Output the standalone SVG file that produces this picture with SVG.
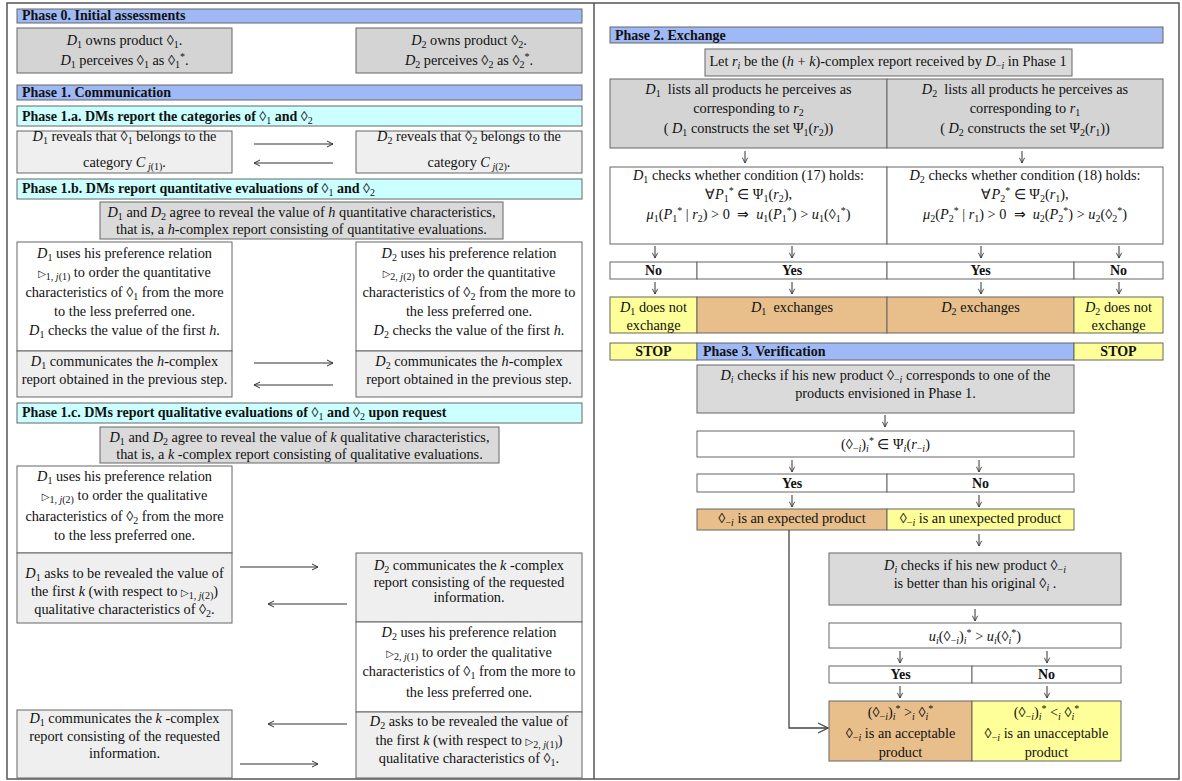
<svg xmlns="http://www.w3.org/2000/svg" width="1182" height="781" viewBox="0 0 1182 781">
<style>
.t{font-family:"Liberation Serif","Times New Roman",serif;font-size:14.3px;fill:#111;text-anchor:middle}
.h{font-weight:bold;text-anchor:start;font-size:14px}
.b{font-weight:bold;font-size:14px}
.i{font-style:italic}
.s{font-size:10px;baseline-shift:-3px}
.u{font-size:10px;baseline-shift:5px}
.tr{font-family:"DejaVu Sans",sans-serif;font-size:10px}
.bx{stroke:#666;stroke-width:1}
.blue{fill:#9fb8f6}
.cyan{fill:#ccffff}
.g1{fill:#d4d4d4}
.g2{fill:#efefef}
.g3{fill:#dadada}
.w{fill:#ffffff}
.yel{fill:#ffff99}
.org{fill:#e8bf8b}
.c{stroke:#333;stroke-width:1;fill:none}
</style>
<defs>
<marker id="ah" viewBox="0 0 8 8" refX="7" refY="4" markerWidth="8" markerHeight="8" orient="auto" markerUnits="userSpaceOnUse"><path d="M1,1 L7,4 L1,7" fill="none" stroke="#333" stroke-width="1"/></marker>
<marker id="ahs" viewBox="0 0 8 8" refX="7" refY="4" markerWidth="7" markerHeight="7" orient="auto" markerUnits="userSpaceOnUse"><path d="M1,1 L7,4 L1,7" fill="none" stroke="#333" stroke-width="1"/></marker>
<marker id="ahb" viewBox="0 0 12 12" refX="11" refY="6" markerWidth="12" markerHeight="12" orient="auto" markerUnits="userSpaceOnUse"><path d="M1,1 L11,6 L1,11" fill="none" stroke="#444" stroke-width="1.3"/></marker>
</defs>
<rect x="0" y="0" width="1182" height="781" fill="#ffffff"/>
<rect x="7" y="3" width="1172" height="776" fill="none" stroke="#555" stroke-width="1.5"/>
<line x1="594" y1="3" x2="594" y2="779" stroke="#555" stroke-width="1.5"/>

<!-- LEFT PANEL -->
<g id="ph0"><rect class="bx blue" x="17" y="9" width="565" height="14"/><text class="t h" x="22" y="20">Phase 0. Initial assessments</text></g>
<g id="p0d1"><rect class="bx g1" x="17" y="28" width="215" height="45"/>
<text class="t" x="124.5" y="45"><tspan class="i">D</tspan><tspan class="s">1</tspan> owns product ◊<tspan class="s">1</tspan>.</text>
<text class="t" x="124.5" y="65"><tspan class="i">D</tspan><tspan class="s">1</tspan> perceives ◊<tspan class="s">1</tspan> as ◊<tspan class="s">1</tspan><tspan class="u">*</tspan>.</text></g>
<g id="p0d2"><rect class="bx g1" x="356" y="28" width="226" height="45"/>
<text class="t" x="469" y="45"><tspan class="i">D</tspan><tspan class="s">2</tspan> owns product ◊<tspan class="s">2</tspan>.</text>
<text class="t" x="469" y="65"><tspan class="i">D</tspan><tspan class="s">2</tspan> perceives ◊<tspan class="s">2</tspan> as ◊<tspan class="s">2</tspan><tspan class="u">*</tspan>.</text></g>

<g id="ph1"><rect class="bx blue" x="17" y="85" width="565" height="15"/><text class="t h" x="22" y="97">Phase 1. Communication</text></g>
<g id="ph1a"><rect class="bx cyan" x="17" y="106" width="565" height="20"/><text class="t h" x="22" y="121">Phase 1.a. DMs report the categories of <tspan font-weight="normal">◊<tspan class="s">1</tspan></tspan> and <tspan font-weight="normal">◊<tspan class="s">2</tspan></tspan></text></g>
<g id="rev1"><rect class="bx g2" x="17" y="131" width="215" height="42"/>
<text class="t" x="124.5" y="141"><tspan class="i">D</tspan><tspan class="s">1</tspan> reveals that ◊<tspan class="s">1</tspan> belongs to the</text>
<text class="t" x="124.5" y="167">category <tspan class="i">C</tspan><tspan class="s" font-style="italic"> j</tspan><tspan class="s">(1)</tspan>.</text></g>
<g id="rev2"><rect class="bx g2" x="356" y="131" width="226" height="42"/>
<text class="t" x="469" y="141"><tspan class="i">D</tspan><tspan class="s">2</tspan> reveals that ◊<tspan class="s">2</tspan> belongs to the</text>
<text class="t" x="469" y="167">category <tspan class="i">C</tspan><tspan class="s" font-style="italic"> j</tspan><tspan class="s">(2)</tspan>.</text></g>

<g id="ph1b"><rect class="bx cyan" x="17" y="179" width="565" height="20"/><text class="t h" x="22" y="193">Phase 1.b. DMs report quantitative evaluations of <tspan font-weight="normal">◊<tspan class="s">1</tspan></tspan> and <tspan font-weight="normal">◊<tspan class="s">2</tspan></tspan></text></g>
<g id="agreeh"><rect class="bx g3" x="100" y="202" width="403" height="37"/>
<text class="t" x="301.5" y="217"><tspan class="i">D</tspan><tspan class="s">1</tspan> and <tspan class="i">D</tspan><tspan class="s">2</tspan> agree to reveal the value of <tspan class="i">h</tspan> quantitative characteristics,</text>
<text class="t" x="301.5" y="234">that is, a <tspan class="i">h</tspan>-complex report consisting of quantitative evaluations.</text></g>
<g id="use1q"><rect class="bx w" x="17" y="242" width="215" height="109"/>
<text class="t" x="124.5" y="258"><tspan class="i">D</tspan><tspan class="s">1</tspan> uses his preference relation</text>
<text class="t" x="124.5" y="277"><tspan class="tr">▷</tspan><tspan class="s">1, <tspan class="i">j</tspan>(1)</tspan> to order the quantitative</text>
<text class="t" x="124.5" y="297">characteristics of ◊<tspan class="s">1</tspan> from the more</text>
<text class="t" x="124.5" y="316">to the less preferred one.</text>
<text class="t" x="124.5" y="335"><tspan class="i">D</tspan><tspan class="s">1</tspan> checks the value of the first <tspan class="i">h</tspan>.</text></g>
<g id="use2q"><rect class="bx w" x="356" y="242" width="226" height="109"/>
<text class="t" x="469" y="258"><tspan class="i">D</tspan><tspan class="s">2</tspan> uses his preference relation</text>
<text class="t" x="469" y="277"><tspan class="tr">▷</tspan><tspan class="s">2, <tspan class="i">j</tspan>(2)</tspan> to order the quantitative</text>
<text class="t" x="469" y="297">characteristics of ◊<tspan class="s">2</tspan> from the more to</text>
<text class="t" x="469" y="316">the less preferred one.</text>
<text class="t" x="469" y="335"><tspan class="i">D</tspan><tspan class="s">2</tspan> checks the value of the first <tspan class="i">h</tspan>.</text></g>
<g id="com1h"><rect class="bx g2" x="17" y="351" width="215" height="46"/>
<text class="t" x="124.5" y="366"><tspan class="i">D</tspan><tspan class="s">1</tspan> communicates the <tspan class="i">h</tspan>-complex</text>
<text class="t" x="124.5" y="384">report obtained in the previous step.</text></g>
<g id="com2h"><rect class="bx g2" x="356" y="351" width="226" height="46"/>
<text class="t" x="469" y="366"><tspan class="i">D</tspan><tspan class="s">2</tspan> communicates the <tspan class="i">h</tspan>-complex</text>
<text class="t" x="469" y="384">report obtained in the previous step.</text></g>

<g id="ph1c"><rect class="bx cyan" x="17" y="403" width="565" height="20"/><text class="t h" x="22" y="417">Phase 1.c. DMs report qualitative evaluations of <tspan font-weight="normal">◊<tspan class="s">1</tspan></tspan> and <tspan font-weight="normal">◊<tspan class="s">2</tspan></tspan> upon request</text></g>
<g id="agreek"><rect class="bx g3" x="100" y="427" width="399" height="36"/>
<text class="t" x="299.5" y="442"><tspan class="i">D</tspan><tspan class="s">1</tspan> and <tspan class="i">D</tspan><tspan class="s">2</tspan> agree to reveal the value of <tspan class="i">k</tspan> qualitative characteristics,</text>
<text class="t" x="299.5" y="459">that is, a <tspan class="i">k</tspan> -complex report consisting of qualitative evaluations.</text></g>
<g id="use1k"><rect class="bx w" x="17" y="466" width="215" height="87"/>
<text class="t" x="124.5" y="481"><tspan class="i">D</tspan><tspan class="s">1</tspan> uses his preference relation</text>
<text class="t" x="124.5" y="500"><tspan class="tr">▷</tspan><tspan class="s">1, <tspan class="i">j</tspan>(2)</tspan> to order the qualitative</text>
<text class="t" x="124.5" y="521">characteristics of ◊<tspan class="s">2</tspan> from the more</text>
<text class="t" x="124.5" y="540">to the less preferred one.</text></g>
<g id="ask1"><rect class="bx g2" x="17" y="553" width="215" height="70"/>
<text class="t" x="124.5" y="578"><tspan class="i">D</tspan><tspan class="s">1</tspan> asks to be revealed the value of</text>
<text class="t" x="124.5" y="596">the first <tspan class="i">k</tspan> (with respect to <tspan class="tr">▷</tspan><tspan class="s">1, <tspan class="i">j</tspan>(2)</tspan>)</text>
<text class="t" x="124.5" y="614">qualitative characteristics of ◊<tspan class="s">2</tspan>.</text></g>
<g id="com2k"><rect class="bx g2" x="356" y="553" width="226" height="69"/>
<text class="t" x="469" y="570"><tspan class="i">D</tspan><tspan class="s">2</tspan> communicates the <tspan class="i">k</tspan> -complex</text>
<text class="t" x="469" y="587">report consisting of the requested</text>
<text class="t" x="469" y="602">information.</text></g>
<g id="use2k"><rect class="bx w" x="356" y="622" width="226" height="90"/>
<text class="t" x="469" y="637"><tspan class="i">D</tspan><tspan class="s">2</tspan> uses his preference relation</text>
<text class="t" x="469" y="657"><tspan class="tr">▷</tspan><tspan class="s">2, <tspan class="i">j</tspan>(1)</tspan> to order the qualitative</text>
<text class="t" x="469" y="676">characteristics of ◊<tspan class="s">1</tspan> from the more to</text>
<text class="t" x="469" y="697">the less preferred one.</text></g>
<g id="com1k"><rect class="bx g2" x="17" y="710" width="215" height="68"/>
<text class="t" x="124.5" y="723"><tspan class="i">D</tspan><tspan class="s">1</tspan> communicates the <tspan class="i">k</tspan> -complex</text>
<text class="t" x="124.5" y="741">report consisting of the requested</text>
<text class="t" x="124.5" y="758">information.</text></g>
<g id="ask2"><rect class="bx g2" x="356" y="712" width="226" height="66"/>
<text class="t" x="469" y="726"><tspan class="i">D</tspan><tspan class="s">2</tspan> asks to be revealed the value of</text>
<text class="t" x="469" y="745">the first <tspan class="i">k</tspan> (with respect to <tspan class="tr">▷</tspan><tspan class="s">2, <tspan class="i">j</tspan>(1)</tspan>)</text>
<text class="t" x="469" y="763">qualitative characteristics of ◊<tspan class="s">1</tspan>.</text></g>

<!-- RIGHT PANEL -->
<g id="ph2"><rect class="bx blue" x="610" y="27" width="553" height="16"/><text class="t h" x="615" y="40">Phase 2. Exchange</text></g>
<g id="let"><rect class="bx g3" x="705" y="49" width="367" height="27"/>
<text class="t" x="888" y="66">Let <tspan class="i">r</tspan><tspan class="s i">i</tspan> be the (<tspan class="i">h</tspan> + <tspan class="i">k</tspan>)-complex report received by <tspan class="i">D</tspan><tspan class="s">−<tspan class="i">i</tspan></tspan> in Phase 1</text></g>
<g id="list1"><rect class="bx g1" x="610" y="79" width="277" height="69"/>
<text class="t" x="748.5" y="94"><tspan class="i">D</tspan><tspan class="s">1</tspan>&#160; lists all products he perceives as</text>
<text class="t" x="748.5" y="113">corresponding to <tspan class="i">r</tspan><tspan class="s">2</tspan></text>
<text class="t" x="748.5" y="133">( <tspan class="i">D</tspan><tspan class="s">1</tspan> constructs the set Ψ<tspan class="s">1</tspan>(<tspan class="i">r</tspan><tspan class="s">2</tspan>))</text></g>
<g id="list2"><rect class="bx g1" x="887" y="79" width="276" height="69"/>
<text class="t" x="1025" y="94"><tspan class="i">D</tspan><tspan class="s">2</tspan>&#160; lists all products he perceives as</text>
<text class="t" x="1025" y="113">corresponding to <tspan class="i">r</tspan><tspan class="s">1</tspan></text>
<text class="t" x="1025" y="133">( <tspan class="i">D</tspan><tspan class="s">2</tspan> constructs the set Ψ<tspan class="s">2</tspan>(<tspan class="i">r</tspan><tspan class="s">1</tspan>))</text></g>
<g id="chk1"><rect class="bx w" x="610" y="167" width="277" height="77"/>
<text class="t" x="748.5" y="180"><tspan class="i">D</tspan><tspan class="s">1</tspan> checks whether condition (17) holds:</text>
<text class="t" x="748.5" y="199">∀<tspan class="i">P</tspan><tspan class="s">1</tspan><tspan class="u">*</tspan> ∈ Ψ<tspan class="s">1</tspan>(<tspan class="i">r</tspan><tspan class="s">2</tspan>),</text>
<text class="t" x="748.5" y="219"><tspan class="i">μ</tspan><tspan class="s">1</tspan>(<tspan class="i">P</tspan><tspan class="s">1</tspan><tspan class="u">*</tspan> | <tspan class="i">r</tspan><tspan class="s">2</tspan>) &gt; 0&#160; ⇒&#160; <tspan class="i">u</tspan><tspan class="s">1</tspan>(<tspan class="i">P</tspan><tspan class="s">1</tspan><tspan class="u">*</tspan>) &gt; <tspan class="i">u</tspan><tspan class="s">1</tspan>(◊<tspan class="s">1</tspan><tspan class="u">*</tspan>)</text></g>
<g id="chk2"><rect class="bx w" x="887" y="167" width="276" height="77"/>
<text class="t" x="1025" y="180"><tspan class="i">D</tspan><tspan class="s">2</tspan> checks whether condition (18) holds:</text>
<text class="t" x="1025" y="199">∀<tspan class="i">P</tspan><tspan class="s">2</tspan><tspan class="u">*</tspan> ∈ Ψ<tspan class="s">2</tspan>(<tspan class="i">r</tspan><tspan class="s">1</tspan>),</text>
<text class="t" x="1025" y="219"><tspan class="i">μ</tspan><tspan class="s">2</tspan>(<tspan class="i">P</tspan><tspan class="s">2</tspan><tspan class="u">*</tspan> | <tspan class="i">r</tspan><tspan class="s">1</tspan>) &gt; 0&#160; ⇒&#160; <tspan class="i">u</tspan><tspan class="s">2</tspan>(<tspan class="i">P</tspan><tspan class="s">2</tspan><tspan class="u">*</tspan>) &gt; <tspan class="i">u</tspan><tspan class="s">2</tspan>(◊<tspan class="s">2</tspan><tspan class="u">*</tspan>)</text></g>
<g id="yn1">
<rect class="bx w" x="610" y="262" width="87" height="17"/><text class="t b" x="653.5" y="275">No</text>
<rect class="bx w" x="697" y="262" width="190" height="17"/><text class="t b" x="792" y="275">Yes</text>
<rect class="bx w" x="887" y="262" width="187" height="17"/><text class="t b" x="980.5" y="275">Yes</text>
<rect class="bx w" x="1074" y="262" width="89" height="17"/><text class="t b" x="1118.5" y="275">No</text></g>
<g id="ex1n"><rect class="bx yel" x="610" y="297" width="87" height="36"/>
<text class="t" x="653.5" y="312"><tspan class="i">D</tspan><tspan class="s">1</tspan> does not</text><text class="t" x="653.5" y="330">exchange</text></g>
<g id="ex1y"><rect class="bx org" x="697" y="297" width="190" height="36"/>
<text class="t" x="792" y="312"><tspan class="i">D</tspan><tspan class="s">1</tspan>&#160; exchanges</text></g>
<g id="ex2y"><rect class="bx org" x="887" y="297" width="187" height="36"/>
<text class="t" x="980.5" y="312"><tspan class="i">D</tspan><tspan class="s">2</tspan> exchanges</text></g>
<g id="ex2n"><rect class="bx yel" x="1074" y="297" width="89" height="36"/>
<text class="t" x="1118.5" y="312"><tspan class="i">D</tspan><tspan class="s">2</tspan> does not</text><text class="t" x="1118.5" y="330">exchange</text></g>
<g id="stop1"><rect class="bx yel" x="610" y="343" width="87" height="17"/><text class="t b" x="653.5" y="356">STOP</text></g>
<g id="ph3"><rect class="bx blue" x="697" y="343" width="377" height="17"/><text class="t h" x="703" y="356">Phase 3. Verification</text></g>
<g id="stop2"><rect class="bx yel" x="1074" y="343" width="89" height="17"/><text class="t b" x="1118.5" y="356">STOP</text></g>
<g id="vchk"><rect class="bx g3" x="697" y="365" width="377" height="48"/>
<text class="t" x="885.5" y="380"><tspan class="i">D</tspan><tspan class="s i">i</tspan> checks if his new product ◊<tspan class="s">−<tspan class="i">i</tspan></tspan> corresponds to one of the</text>
<text class="t" x="885.5" y="398">products envisioned in Phase 1.</text></g>
<g id="f1"><rect class="bx w" x="697" y="431" width="377" height="26"/>
<text class="t" x="885.5" y="449">(◊<tspan class="s">−<tspan class="i">i</tspan></tspan>)<tspan class="s i">i</tspan><tspan class="u">*</tspan> ∈ Ψ<tspan class="s i">i</tspan>(<tspan class="i">r</tspan><tspan class="s">−<tspan class="i">i</tspan></tspan>)</text></g>
<g id="yn2">
<rect class="bx w" x="697" y="474" width="190" height="18"/><text class="t b" x="792" y="488">Yes</text>
<rect class="bx w" x="887" y="474" width="187" height="18"/><text class="t b" x="980.5" y="488">No</text></g>
<g id="expy"><rect class="bx org" x="697" y="509" width="190" height="21"/>
<text class="t" x="792" y="523">◊<tspan class="s">−<tspan class="i">i</tspan></tspan> is an expected product</text></g>
<g id="expn"><rect class="bx yel" x="887" y="509" width="187" height="21"/>
<text class="t" x="980.5" y="523">◊<tspan class="s">−<tspan class="i">i</tspan></tspan> is an unexpected product</text></g>
<g id="bchk"><rect class="bx g3" x="829" y="553" width="292" height="52"/>
<text class="t" x="975" y="570"><tspan class="i">D</tspan><tspan class="s i">i</tspan> checks if his new product ◊<tspan class="s">−<tspan class="i">i</tspan></tspan></text>
<text class="t" x="975" y="588">is better than his original ◊<tspan class="s i">i</tspan> .</text></g>
<g id="f2"><rect class="bx w" x="829" y="623" width="292" height="25"/>
<text class="t" x="975" y="641"><tspan class="i">u</tspan><tspan class="s i">i</tspan>(◊<tspan class="s">−<tspan class="i">i</tspan></tspan>)<tspan class="s i">i</tspan><tspan class="u">*</tspan> &gt; <tspan class="i">u</tspan><tspan class="s i">i</tspan>(◊<tspan class="s i">i</tspan><tspan class="u">*</tspan>)</text></g>
<g id="yn3">
<rect class="bx w" x="829" y="666" width="143" height="17"/><text class="t b" x="900.5" y="679">Yes</text>
<rect class="bx w" x="972" y="666" width="149" height="17"/><text class="t b" x="1046.5" y="679">No</text></g>
<g id="acc"><rect class="bx org" x="829" y="701" width="143" height="60"/>
<text class="t" x="900.5" y="717">(◊<tspan class="s">−<tspan class="i">i</tspan></tspan>)<tspan class="s i">i</tspan><tspan class="u">*</tspan> &gt;<tspan class="s i">i</tspan> ◊<tspan class="s i">i</tspan><tspan class="u">*</tspan></text>
<text class="t" x="900.5" y="738">◊<tspan class="s">−<tspan class="i">i</tspan></tspan> is an acceptable</text>
<text class="t" x="900.5" y="757">product</text></g>
<g id="unacc"><rect class="bx yel" x="972" y="701" width="149" height="60"/>
<text class="t" x="1046.5" y="717">(◊<tspan class="s">−<tspan class="i">i</tspan></tspan>)<tspan class="s i">i</tspan><tspan class="u">*</tspan> &lt;<tspan class="s i">i</tspan> ◊<tspan class="s i">i</tspan><tspan class="u">*</tspan></text>
<text class="t" x="1046.5" y="738">◊<tspan class="s">−<tspan class="i">i</tspan></tspan> is an unacceptable</text>
<text class="t" x="1046.5" y="757">product</text></g>

<g id="connectors">
<line class="c" x1="254" y1="144" x2="333" y2="144" marker-end="url(#ah)"/>
<line class="c" x1="333" y1="163" x2="254" y2="163" marker-end="url(#ah)"/>
<line class="c" x1="254" y1="363" x2="333" y2="363" marker-end="url(#ah)"/>
<line class="c" x1="333" y1="385" x2="254" y2="385" marker-end="url(#ah)"/>
<line class="c" x1="240" y1="567" x2="318" y2="567" marker-end="url(#ah)"/>
<line class="c" x1="347" y1="604" x2="268" y2="604" marker-end="url(#ah)"/>
<line class="c" x1="347" y1="724" x2="268" y2="724" marker-end="url(#ah)"/>
<line class="c" x1="240" y1="764" x2="318" y2="764" marker-end="url(#ah)"/>
<line class="c" x1="745" y1="151" x2="745" y2="163" marker-end="url(#ahs)"/>
<line class="c" x1="1022" y1="151" x2="1022" y2="163" marker-end="url(#ahs)"/>
<line class="c" x1="655" y1="246" x2="655" y2="258" marker-end="url(#ahs)"/>
<line class="c" x1="792" y1="246" x2="792" y2="258" marker-end="url(#ahs)"/>
<line class="c" x1="981" y1="246" x2="981" y2="258" marker-end="url(#ahs)"/>
<line class="c" x1="1119" y1="246" x2="1119" y2="258" marker-end="url(#ahs)"/>
<line class="c" x1="655" y1="282" x2="655" y2="294" marker-end="url(#ahs)"/>
<line class="c" x1="792" y1="282" x2="792" y2="294" marker-end="url(#ahs)"/>
<line class="c" x1="981" y1="282" x2="981" y2="294" marker-end="url(#ahs)"/>
<line class="c" x1="1119" y1="282" x2="1119" y2="294" marker-end="url(#ahs)"/>
<line class="c" x1="885" y1="415" x2="885" y2="427" marker-end="url(#ahs)"/>
<line class="c" x1="792" y1="460" x2="792" y2="472" marker-end="url(#ahs)"/>
<line class="c" x1="979" y1="460" x2="979" y2="472" marker-end="url(#ahs)"/>
<line class="c" x1="792" y1="495" x2="792" y2="507" marker-end="url(#ahs)"/>
<line class="c" x1="979" y1="495" x2="979" y2="507" marker-end="url(#ahs)"/>
<line class="c" x1="979" y1="534" x2="979" y2="546" marker-end="url(#ahs)"/>
<line class="c" x1="975" y1="609" x2="975" y2="621" marker-end="url(#ahs)"/>
<line class="c" x1="900" y1="651" x2="900" y2="663" marker-end="url(#ahs)"/>
<line class="c" x1="1047" y1="651" x2="1047" y2="663" marker-end="url(#ahs)"/>
<line class="c" x1="900" y1="686" x2="900" y2="698" marker-end="url(#ahs)"/>
<line class="c" x1="1047" y1="686" x2="1047" y2="698" marker-end="url(#ahs)"/>
<polyline points="789,530 789,728 828,728" fill="none" stroke="#444" stroke-width="1.3" marker-end="url(#ahb)"/>
</g>
</svg>
